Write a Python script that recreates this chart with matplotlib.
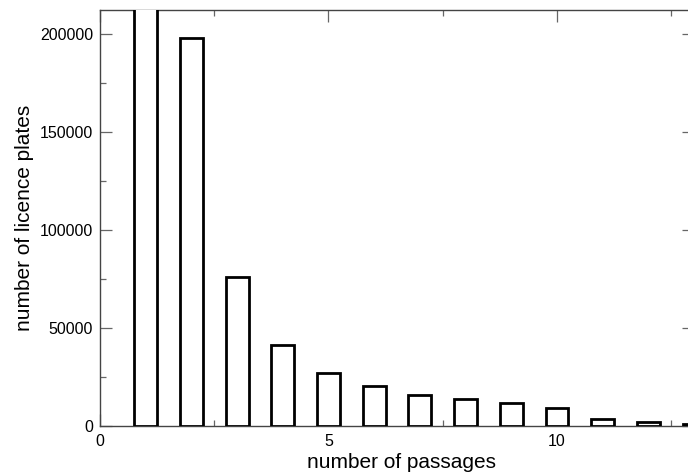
import numpy as np
import matplotlib.pyplot as plt
from matplotlib.ticker import MultipleLocator

plt.rcParams['font.family'] = ['Liberation Sans', 'DejaVu Sans']

passages = [1, 2, 3, 4, 5, 6, 7, 8, 9, 10, 11, 12, 13]
plates = [350000, 197600, 76000, 41300, 26900, 20200, 15900, 13600,
          11600, 9200, 3700, 2000, 800]

fig = plt.figure(figsize=(6.88, 4.72), dpi=100)
# axes run a little past the right edge of the picture, as in the original
ax = fig.add_axes([100 / 688, 46 / 472, 594 / 688, 416 / 472])

ax.bar(passages, plates, width=0.5, facecolor='white', edgecolor='black',
       linewidth=2.0, zorder=3)

ax.set_xlim(0, 13)
ax.set_ylim(0, 212000)

ax.xaxis.set_major_locator(MultipleLocator(5))
ax.xaxis.set_minor_locator(MultipleLocator(2.5))
ax.yaxis.set_major_locator(MultipleLocator(50000))
ax.yaxis.set_minor_locator(MultipleLocator(25000))

for s in ax.spines.values():
    s.set_linewidth(1.0)
    s.set_color('#444444')
ax.tick_params(which='both', direction='in', top=True, right=True,
               color='#666666', labelsize=11.5)
ax.tick_params(which='major', length=8.6, width=0.9)
ax.tick_params(which='minor', length=4.3, width=0.9)
ax.tick_params(axis='x', pad=6)
ax.tick_params(axis='y', pad=5)

ax.set_xlabel('number of passages', fontsize=15, labelpad=3)
ax.set_ylabel('number of licence plates', fontsize=15, labelpad=4)
ax.xaxis.label.set_x(0.508)

fig.savefig('out.png', dpi=100)
